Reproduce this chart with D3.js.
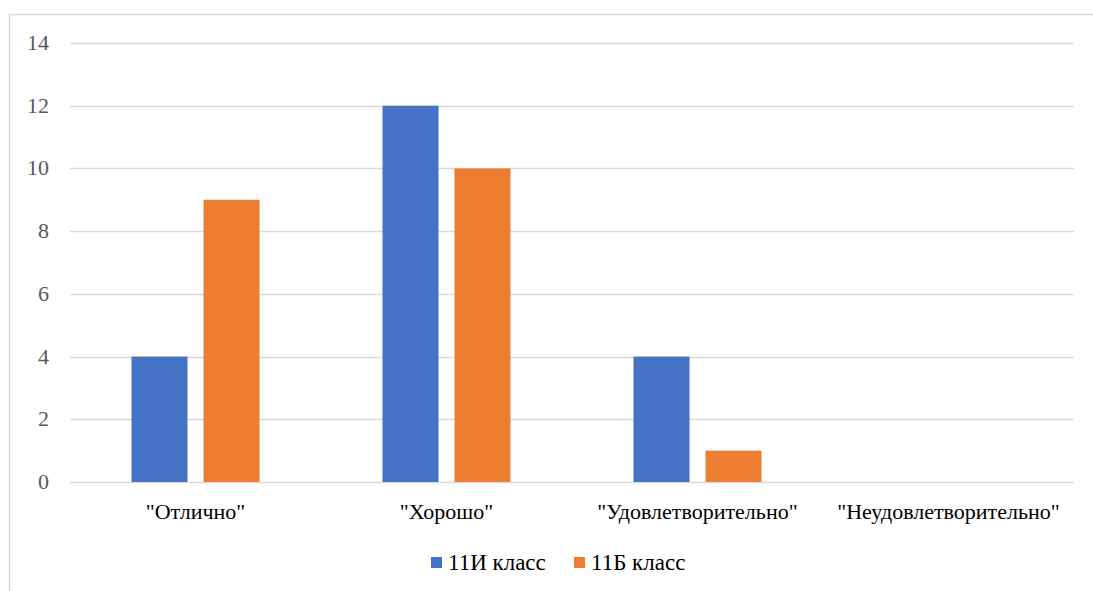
<!DOCTYPE html>
<html><head><meta charset="utf-8">
<script src="https://cdn.jsdelivr.net/npm/d3@7"></script>
<style>html,body{margin:0;padding:0;background:#fff;overflow:hidden}
svg, svg text, text{font-family:"Liberation Serif", serif !important}
text.tk{font-size:22px;fill:#595959}
text.xl{font-size:22px;fill:#000}
text.lg{font-size:23px;fill:#000}
</style>
</head><body>
<script>
const categories = ['"Отлично"', '"Хорошо"', '"Удовлетворительно"', '"Неудовлетворительно"'];
const seriesNames = ["11И класс", "11Б класс"];
const series1 = [4, 12, 4, 0];
const series2 = [9, 10, 1, 0];
const yTicks = [0, 2, 4, 6, 8, 10, 12, 14];
const colors = ["#4472c4", "#ed7d31"];

(function(){
const W = 1093, H = 591;
const svg = d3.select("body").append("svg").attr("width", W).attr("height", H)
  .style("font-family", "Liberation Serif, serif", "important");

svg.append("path").attr("d", `M9.5,${H+5} V14.5 H${W+5}`)
  .attr("fill", "none").attr("stroke", "#d9d9d9").attr("stroke-width", 1.5);

const pl = 70, pr = 1074, pt = 43, pb = 482;
const x = d3.scaleBand().domain(categories).range([pl, pr]);
const y = d3.scaleLinear().domain([0, 14]).range([pb, pt]);

svg.append("g").selectAll("line").data(yTicks).join("line")
  .attr("x1", pl).attr("x2", pr)
  .attr("y1", d => Math.round(y(d)) + 0.5).attr("y2", d => Math.round(y(d)) + 0.5)
  .attr("stroke", "#d9d9d9").attr("stroke-width", 1.5);

const barW = 56, gap = 16;
const data = [series1, series2];
data.forEach((vals, si) => {
  svg.append("g").selectAll("rect").data(categories).join("rect")
    .attr("x", (c) => x(c) + x.bandwidth() / 2 - (barW + gap / 2) + si * (barW + gap))
    .attr("width", barW)
    .attr("y", (c, i) => y(vals[i]))
    .attr("height", (c, i) => y(0) - y(vals[i]))
    .attr("fill", colors[si]);
});

svg.append("g").selectAll("text").data(yTicks).join("text")
  .attr("class", "tk")
  .style("font-family", "Liberation Serif, serif", "important")
  .attr("x", 49).attr("y", d => y(d)).attr("dy", "0.32em")
  .attr("text-anchor", "end")
  .text(d => d);

svg.append("g").selectAll("text").data(categories).join("text")
  .attr("class", "xl")
  .style("font-family", "Liberation Serif, serif", "important")
  .attr("x", d => x(d) + x.bandwidth() / 2).attr("y", 519)
  .attr("text-anchor", "middle")
  .text(d => d);

const legX = [431, 574];
seriesNames.forEach((n, i) => {
  svg.append("rect").attr("x", legX[i]).attr("y", 557).attr("width", 11).attr("height", 11).attr("fill", colors[i]);
  svg.append("text").attr("class", "lg")
    .style("font-family", "Liberation Serif, serif", "important")
    .attr("x", legX[i] + 17).attr("y", 570).text(n);
});
})();
</script>
</body></html>
